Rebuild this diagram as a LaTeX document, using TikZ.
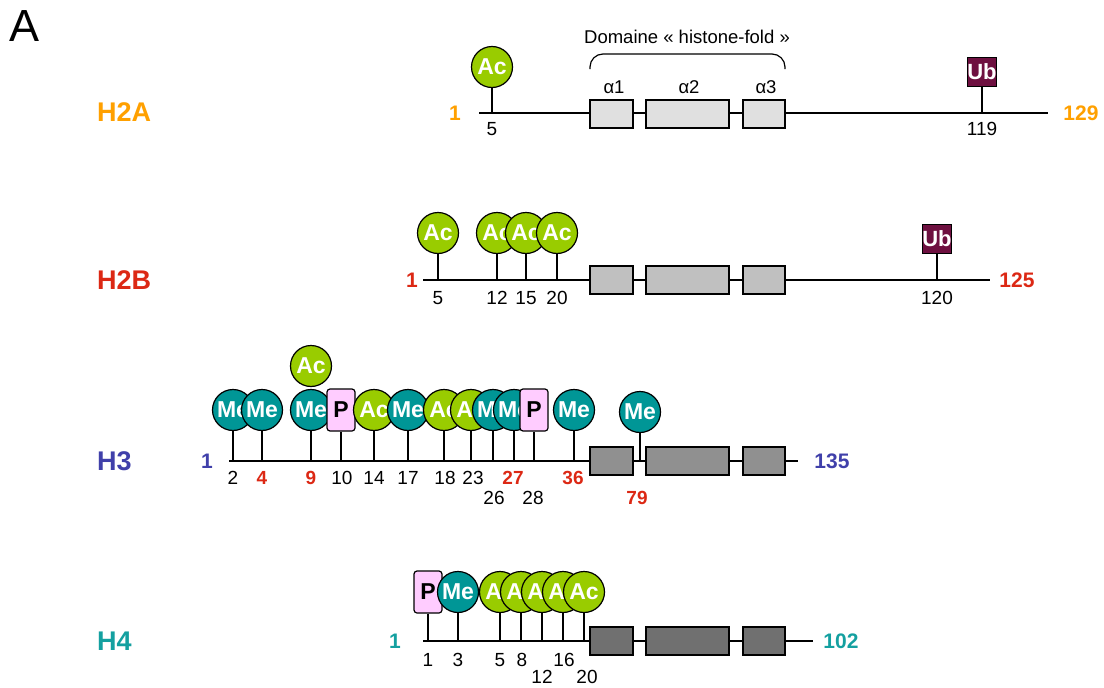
\documentclass[tikz,border=0pt]{standalone}
\usepackage{fontspec}
\setmainfont{Liberation Sans}
\definecolor{acg}{RGB}{153,204,0}
\definecolor{met}{RGB}{0,150,150}
\definecolor{pinkc}{RGB}{255,204,255}
\definecolor{ubc}{RGB}{110,16,64}
\definecolor{orc}{RGB}{255,160,0}
\definecolor{redc}{RGB}{220,40,20}
\definecolor{bluc}{RGB}{64,64,170}
\definecolor{tealc}{RGB}{20,160,160}
\definecolor{ga}{RGB}{224,224,224}
\definecolor{gb}{RGB}{192,192,192}
\definecolor{gc}{RGB}{144,144,144}
\definecolor{gd}{RGB}{112,112,112}
\begin{document}
\begin{tikzpicture}[x=1pt,y=-1pt,
 mod/.style={draw=black, line width=1.2pt, inner sep=0pt, text=white, font=\fontsize{23}{23}\selectfont\bfseries},
 ac/.style={mod, circle, fill=acg, minimum size=41pt},
 me/.style={mod, circle, fill=met, minimum size=41pt},
 pb/.style={mod, rectangle, rounded corners=3pt, fill=pinkc, text=black, minimum width=28pt, minimum height=42pt},
 ub/.style={rectangle, fill=ubc, draw=black, line width=0.6pt, minimum size=29pt, inner sep=0pt, text=white, font=\fontsize{22}{22}\selectfont\bfseries},
 num/.style={inner sep=0pt, font=\fontsize{19}{19}\selectfont},
 rnum/.style={inner sep=0pt, text=redc, font=\fontsize{19}{19}\selectfont\bfseries},
 endl/.style={inner sep=0pt, font=\fontsize{21}{21}\selectfont\bfseries},
 hl/.style={anchor=west, inner sep=0pt, font=\fontsize{27}{27}\selectfont\bfseries},
 chainline/.style={line width=1.4pt},
 pinline/.style={line width=1.3pt},
 dom/.style={draw=black, line width=1.4pt, rectangle, minimum height=28pt, inner sep=0pt},
 lbl/.style={inner sep=0pt, font=\fontsize{18.5}{18.5}\selectfont}
]
\useasboundingbox (0,0) rectangle (1104,688);
\node[inner sep=0pt, font=\fontsize{45}{45}\selectfont] (panel) at (25,26) {A};

% ---------------- H2A ----------------
\node[hl, text=orc] (h2a) at (97,112) {H2A};
\node[endl, text=orc] (a1s) at (455,113) {1};
\node[endl, text=orc] (a1e) at (1081,113) {129};
\coordinate (aL) at (479,113);
\coordinate (aR) at (1048,113);
\draw[chainline] (aL) -- (aR);
\node[dom, fill=ga, minimum width=43pt] (ab1) at (611.5,114) {};
\node[dom, fill=ga, minimum width=83pt] (ab2) at (687.5,114) {};
\node[dom, fill=ga, minimum width=42pt] (ab3) at (764,114) {};
\node[lbl] (al1) at (614,87) {α1};
\node[lbl] (al2) at (689,87) {α2};
\node[lbl] (al3) at (766,87) {α3};
\coordinate (brL) at (590,69);
\coordinate (brR) at (785,69);
\draw[line width=1.2pt, rounded corners=13pt] (brL) -- (590,54) -- (785,54) -- (brR);
\node[lbl] (domt) at (687,37) {Domaine « histone-fold »};
\node[ac] (aac5) at (492,67) {Ac};
\coordinate (ap5) at (492,113);
\draw[pinline] (aac5.south) -- (ap5);
\node[num] (an5) at (492,129) {5};
\node[ub] (aub) at (982,72) {Ub};
\coordinate (ap119) at (982,113);
\draw[pinline] (aub.south) -- (ap119);
\node[num] (an119) at (982,129) {119};

% ---------------- H2B ----------------
\node[hl, text=redc] (h2b) at (97,280) {H2B};
\node[endl, text=redc] (b1s) at (412,280) {1};
\node[endl, text=redc] (b1e) at (1017,280) {125};
\coordinate (bL) at (423,280);
\coordinate (bR) at (990,280);
\draw[chainline] (bL) -- (bR);
\node[dom, fill=gb, minimum width=43pt] (bb1) at (611.5,280) {};
\node[dom, fill=gb, minimum width=83pt] (bb2) at (687.5,280) {};
\node[dom, fill=gb, minimum width=42pt] (bb3) at (764,280) {};
\foreach \x/\n in {438/5,497/12,526/15,557/20}{
  \node[ac] (bac\n) at (\x,233) {Ac};
  \coordinate (bp\n) at (\x,280);
  \draw[pinline] (bac\n.south) -- (bp\n);
  \node[num] (bn\n) at (\x,298) {\n};
}
\node[ub] (bub) at (937,239) {Ub};
\coordinate (bp120) at (937,280);
\draw[pinline] (bub.south) -- (bp120);
\node[num] (bn120) at (937,298) {120};

% ---------------- H3 ----------------
\node[hl, text=bluc] (h3) at (97,461) {H3};
\node[endl, text=bluc] (c1s) at (207,461) {1};
\node[endl, text=bluc] (c1e) at (832,461) {135};
\coordinate (cL) at (229,461);
\coordinate (cR) at (798,461);
\draw[chainline] (cL) -- (cR);
\node[dom, fill=gc, minimum width=43pt] (cb1) at (611.5,461) {};
\node[dom, fill=gc, minimum width=83pt] (cb2) at (687.5,461) {};
\node[dom, fill=gc, minimum width=42pt] (cb3) at (764,461) {};
\foreach \st/\x/\n/\t in {me/233/2/Me, me/262/4/Me, me/311/9/Me, pb/341/10/P, ac/374/14/Ac, me/408/17/Me, ac/444/18/Ac, ac/471/23/Ac, me/493/26/Me, me/514/27/Me, pb/534/28/P, me/574/36/Me}{
  \node[\st] (cm\n) at (\x,410) {\t};
  \coordinate (cp\n) at (\x,461);
  \draw[pinline] (cm\n.south) -- (cp\n);
}
\node[ac] (cac9) at (311,366) {Ac};
\node[me] (cm79) at (640,412) {Me};
\coordinate (cp79) at (640,461);
\draw[pinline] (cm79.south) -- (cp79);
\node[num] (cn2) at (233,478) {2};
\node[rnum] (cn4) at (262,478) {4};
\node[rnum] (cn9) at (311,478) {9};
\node[num] (cn10) at (342,478) {10};
\node[num] (cn14) at (374,478) {14};
\node[num] (cn17) at (408,478) {17};
\node[num] (cn18) at (445,478) {18};
\node[num] (cn23) at (473,478) {23};
\node[rnum] (cn27) at (513,478) {27};
\node[num] (cn26) at (494,498) {26};
\node[num] (cn28) at (533,498) {28};
\node[rnum] (cn36) at (573,478) {36};
\node[rnum] (cn79) at (637,498) {79};

% ---------------- H4 ----------------
\node[hl, text=tealc] (h4) at (97,641) {H4};
\node[endl, text=tealc] (d1s) at (395,641) {1};
\node[endl, text=tealc] (d1e) at (841,641) {102};
\coordinate (dL) at (423,641);
\coordinate (dR) at (813,641);
\draw[chainline] (dL) -- (dR);
\node[dom, fill=gd, minimum width=43pt] (db1) at (611.5,641) {};
\node[dom, fill=gd, minimum width=83pt] (db2) at (687.5,641) {};
\node[dom, fill=gd, minimum width=42pt] (db3) at (764,641) {};
\foreach \st/\x/\n/\t in {pb/428/1/P, me/458/3/Me, ac/500/5/Ac, ac/521/8/Ac, ac/542/12/Ac, ac/563/16/Ac, ac/584/20/Ac}{
  \node[\st] (dm\n) at (\x,592) {\t};
  \coordinate (dp\n) at (\x,641);
  \draw[pinline] (dm\n.south) -- (dp\n);
}
\node[num] (dn1) at (428,660) {1};
\node[num] (dn3) at (458,660) {3};
\node[num] (dn5) at (500,660) {5};
\node[num] (dn8) at (522,660) {8};
\node[num] (dn16) at (564,660) {16};
\node[num] (dn12) at (542,677) {12};
\node[num] (dn20) at (587,677) {20};
\end{tikzpicture}
\end{document}
